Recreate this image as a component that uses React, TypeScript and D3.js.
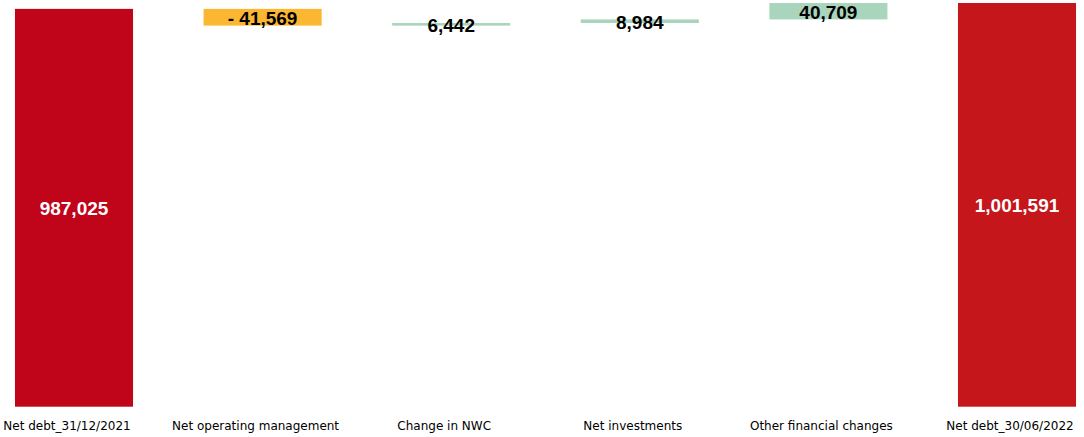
import React from "react";
import * as d3 from "d3";

const categories = [
  "Net debt_31/12/2021",
  "Net operating management",
  "Change in NWC",
  "Net investments",
  "Other financial changes",
  "Net debt_30/06/2022",
];
const values = [987025, -41569, 6442, 8984, 40709, 1001591];
const kinds = ["total", "delta", "delta", "delta", "delta", "total"];
const colors = ["#C0041A", "#FBB732", "#A8D5BB", "#A8D5BB", "#A8D5BB", "#C4161B"];

const W = 1084;
const H = 437;

export default function App() {
  const x = d3
    .scaleBand<string>()
    .domain(categories)
    .range([-20.3, 1111.3])
    .paddingInner(0.374)
    .paddingOuter(0.187);
  const y = d3.scaleLinear().domain([0, 1001591]).range([406.7, 3]);

  let cum = 0;
  const bars = categories.map((c, i) => {
    let y0: number, y1: number;
    if (kinds[i] === "total") {
      y0 = 0;
      y1 = values[i];
      cum = values[i];
    } else {
      y0 = cum;
      y1 = cum + values[i];
      cum = y1;
    }
    return { c, i, lo: Math.min(y0, y1), hi: Math.max(y0, y1) };
  });

  const fmt = d3.format(",");
  const label = (v: number) => (v < 0 ? "- " + fmt(-v) : fmt(v));

  return (
    <>
      <style>{"body{margin:0}"}</style>
      <svg width={W} height={H} style={{ display: "block" }}>
        {bars.map((b) => {
          const bx = x(b.c)!;
          const bw = x.bandwidth();
          const top = y(b.hi);
          const bot = y(b.lo);
          return (
            <g key={b.c}>
              <rect x={bx} y={top} width={bw} height={bot - top} fill={colors[b.i]} />
              <text
                x={bx + bw / 2}
                y={(top + bot) / 2 + 1}
                textAnchor="middle"
                dominantBaseline="central"
                fontFamily="Liberation Sans, Arial, sans-serif"
                fontWeight="bold"
                fontSize={19}
                fill={kinds[b.i] === "total" ? "#FFFFFF" : "#000000"}
              >
                {label(values[b.i])}
              </text>
              <text
                x={bx + bw / 2 - 7}
                y={429.5}
                textAnchor="middle"
                fontFamily="DejaVu Sans, sans-serif"
                fontSize={12}
                fill="#000000"
              >
                {b.c}
              </text>
            </g>
          );
        })}
      </svg>
    </>
  );
}
